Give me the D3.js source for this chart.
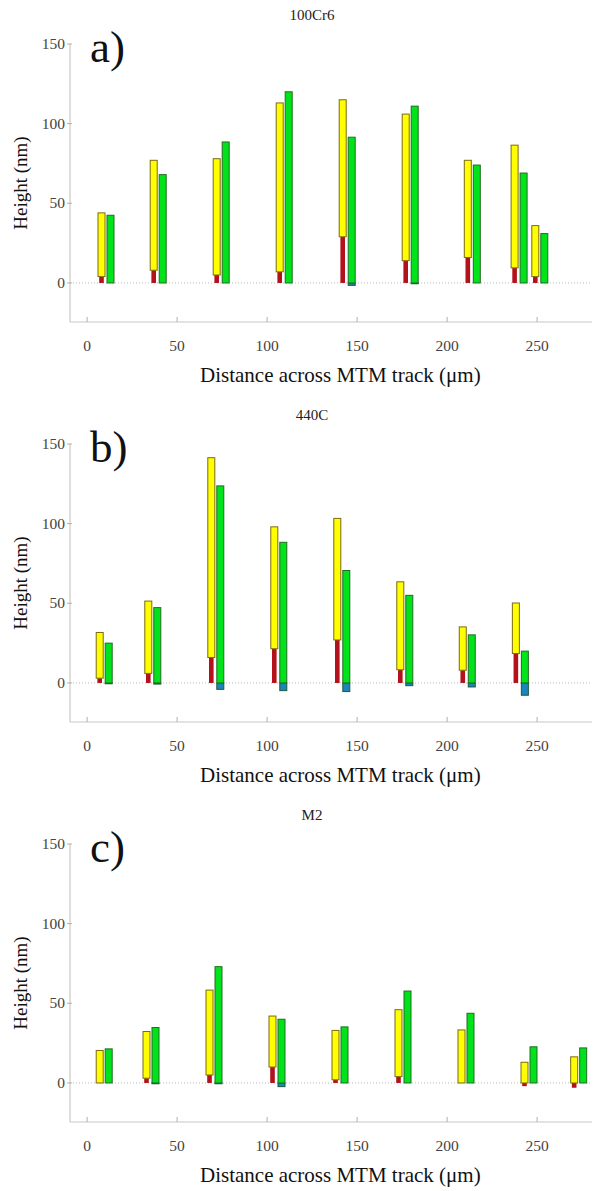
<!DOCTYPE html>
<html lang="en">
	<head>
		<meta charset="utf-8">
		<title>MTM track heights</title>
		<script type="text/javascript" src="https://cdn.jsdelivr.net/npm/d3@7/dist/d3.min.js"></script>
		<style type="text/css">
			body { margin: 0; background: #fff; }
			text { font-family: "Liberation Serif", serif; }
		</style>
	</head>
	<body>
		<script type="text/javascript">

			var titles = ["100Cr6", "440C", "M2"]
			var letters = ["a)", "b)", "c)"]
			var xTicks = [0, 50, 100, 150, 200, 250]
			var yTicks = [0, 50, 100, 150]

			// a) 100Cr6
			var posA = [8, 37, 72, 107, 142, 177, 211.5, 237.5, 249]
			var yellowTopA = [44, 77, 78, 113, 115, 106, 77, 86.5, 36]
			var yellowBotA = [4, 8, 5, 7, 29, 14, 16, 9.5, 4]
			var redBotA = [0, 0, 0, 0, 0, 0, 0, 0, 0]
			var greenTopA = [42.5, 68, 88.5, 120, 91.5, 111, 74, 69, 31]
			var greenBotA = [0, 0, 0, 0, -1.5, -0.5, 0, 0, 0]

			// b) 440C
			var posB = [7, 34, 69, 104, 139, 174, 208.7, 238.2]
			var yellowTopB = [31.7, 51.4, 141.4, 98, 103.3, 63.5, 35.2, 50.2]
			var yellowBotB = [3, 6, 16, 21.5, 27, 8.3, 8, 18.5]
			var redBotB = [0, 0, 0, 0, 0, 0, 0, 0]
			var greenTopB = [25, 47.3, 123.7, 88.3, 70.6, 55, 30.2, 20]
			var greenBotB = [-0.5, -0.7, -4, -4.8, -5.4, -1.7, -2.5, -7.7]

			// c) M2
			var posC = [7, 33, 68, 103, 138, 173, 208, 243, 270.6]
			var yellowTopC = [20.4, 32.3, 58.3, 42, 33, 46, 33.3, 13, 16.4]
			var yellowBotC = [0, 3, 5, 10, 2, 4, 0, 0, 0]
			var redBotC = [0, 0, 0, 0, 0, 0, 0, -2, -3]
			var greenTopC = [21.4, 34.8, 73, 40, 35.2, 57.7, 43.75, 22.7, 22]
			var greenBotC = [0, -0.5, -0.5, -2.3, 0, 0, 0, 0, 0]

			var panels = [
				[posA, yellowTopA, yellowBotA, redBotA, greenTopA, greenBotA],
				[posB, yellowTopB, yellowBotB, redBotB, greenTopB, greenBotB],
				[posC, yellowTopC, yellowBotC, redBotC, greenTopC, greenBotC]
			]

			var w = 596, h = 1191
			var svg = d3.select("body").append("svg").attr("width", w).attr("height", h)

			var left = 70, right = 592, panelH = 400, top0 = 44, bottom0 = 322
			var gap = 5   // green bar sits 5 µm right of the yellow one
			var barW = 8, redW = 4.6

			var x = d3.scaleLinear()
				.domain([-9.5, 280.5])
				.range([left, right])

			var y = d3.scaleLinear()
				.domain([-24.5, 150])
				.range([bottom0, top0])

			panels.forEach(function(p, k) {
				var g = svg.append("g").attr("transform", "translate(0," + (k * panelH) + ")")
				var rows = p[0].map(function(d, i) {
					return { pos: d, yt: p[1][i], yb: p[2][i], rb: p[3][i], gt: p[4][i], gb: p[5][i] }
				})

				// axes
				g.append("line")
					.attr("x1", left).attr("x2", left)
					.attr("y1", y(150)).attr("y2", bottom0)
					.attr("stroke", "#c8c8c8").attr("stroke-width", 1.2)
				g.append("line")
					.attr("x1", left).attr("x2", right)
					.attr("y1", bottom0).attr("y2", bottom0)
					.attr("stroke", "#c8c8c8").attr("stroke-width", 1.2)

				g.selectAll(".ytick")
					.data(yTicks)
					.enter()
					.append("line")
					.attr("x1", left - 3).attr("x2", left + 2)
					.attr("y1", function(d) { return y(d); })
					.attr("y2", function(d) { return y(d); })
					.attr("stroke", "#b0b0b0")

				g.selectAll(".ylab")
					.data(yTicks)
					.enter()
					.append("text")
					.attr("x", left - 5)
					.attr("y", function(d) { return y(d) + 5; })
					.attr("text-anchor", "end")
					.attr("font-size", "15.5px")
					.attr("fill", "#444")
					.text(function(d) { return d; })

				g.selectAll(".xtick")
					.data(xTicks)
					.enter()
					.append("line")
					.attr("x1", function(d) { return x(d); })
					.attr("x2", function(d) { return x(d); })
					.attr("y1", bottom0 - 5).attr("y2", bottom0)
					.attr("stroke", "#b0b0b0")

				g.selectAll(".xlab")
					.data(xTicks)
					.enter()
					.append("text")
					.attr("x", function(d) { return x(d); })
					.attr("y", bottom0 + 29)
					.attr("text-anchor", "middle")
					.attr("font-size", "15.5px")
					.attr("fill", "#444")
					.text(function(d) { return d; })

				// zero line
				g.append("line")
					.attr("x1", left).attr("x2", right)
					.attr("y1", y(0)).attr("y2", y(0))
					.attr("stroke", "#bbb").attr("stroke-dasharray", "1,2")

				g.append("text")
					.attr("x", 200).attr("y", 382)
					.attr("font-size", "21px")
					.attr("fill", "#111")
					.text("Distance across MTM track (μm)")

				g.append("text")
					.attr("transform", "translate(27," + ((top0 + bottom0) / 2) + ") rotate(-90)")
					.attr("text-anchor", "middle")
					.attr("font-size", "19px")
					.attr("fill", "#111")
					.text("Height (nm)")

				g.append("text")
					.attr("x", 312).attr("y", 20)
					.attr("text-anchor", "middle")
					.attr("font-size", "15px")
					.attr("fill", "#222")
					.text(titles[k])

				g.append("text")
					.attr("x", 90).attr("y", 62)
					.attr("font-size", "45px")
					.attr("fill", "#111")
					.text(letters[k])

				// red bars (under yellow)
				g.selectAll(".red")
					.data(rows)
					.enter()
					.append("rect")
					.attr("x", function(d) { return x(d.pos) - redW / 2; })
					.attr("y", function(d) { return y(d.yb); })
					.attr("width", redW)
					.attr("height", function(d) { return Math.max(0, y(d.rb) - y(d.yb)); })
					.attr("fill", "#b3121c")

				g.selectAll(".yellow")
					.data(rows)
					.enter()
					.append("rect")
					.attr("x", function(d) { return x(d.pos) - barW / 2 + 0.5; })
					.attr("y", function(d) { return y(d.yt); })
					.attr("width", barW - 1)
					.attr("height", function(d) { return y(d.yb) - y(d.yt); })
					.attr("fill", "#ffff00")
					.attr("stroke", "#7d6a10")
					.attr("stroke-width", 1)

				g.selectAll(".blue")
					.data(rows.filter(function(d) { return d.gb < 0; }))
					.enter()
					.append("rect")
					.attr("x", function(d) { return x(d.pos + gap) - barW / 2 + 0.5; })
					.attr("y", y(0))
					.attr("width", barW - 1)
					.attr("height", function(d) { return y(d.gb) - y(0); })
					.attr("fill", "#1c86b8")
					.attr("stroke", "#1a5a3a")
					.attr("stroke-width", 1)

				g.selectAll(".green")
					.data(rows)
					.enter()
					.append("rect")
					.attr("x", function(d) { return x(d.pos + gap) - barW / 2 + 0.5; })
					.attr("y", function(d) { return y(d.gt); })
					.attr("width", barW - 1)
					.attr("height", function(d) { return y(0) - y(d.gt); })
					.attr("fill", "#00e31a")
					.attr("stroke", "#246b24")
					.attr("stroke-width", 1)
			})

		</script>
	</body>
</html>
